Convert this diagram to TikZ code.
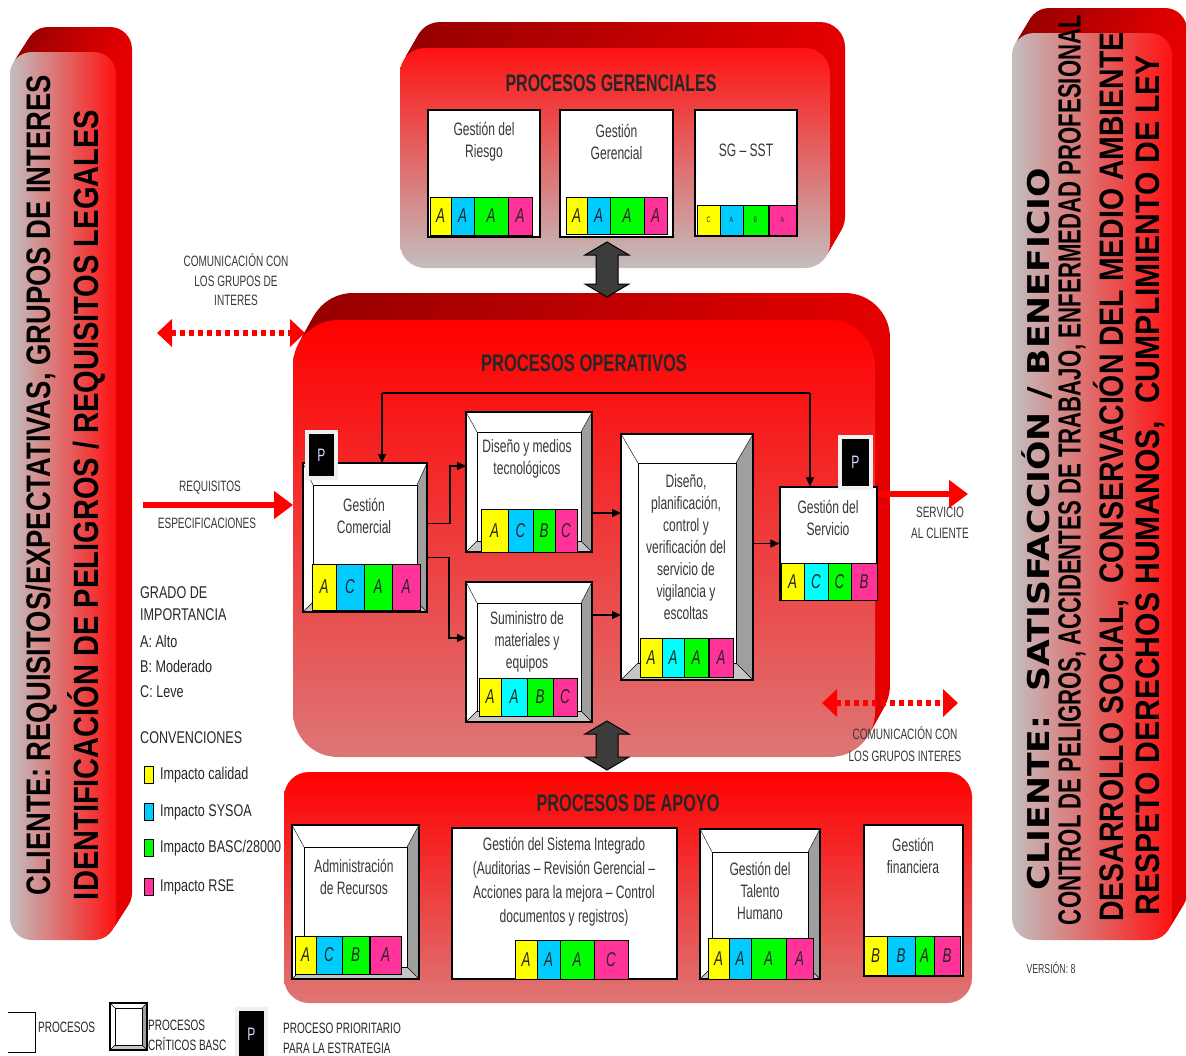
\documentclass[tikz,border=0pt]{standalone}
\usepackage{fontspec}
\usepackage{graphicx}
\setmainfont{Liberation Sans}
\newfontfamily\narrowfont[FakeStretch=0.67]{Liberation Sans}
\newfontfamily\legendfont[FakeStretch=0.74]{Liberation Sans}
\newfontfamily\verdanafont{DejaVu Sans}
\usetikzlibrary{calc,arrows.meta}

\definecolor{yel}{RGB}{255,255,0}
\definecolor{skyb}{RGB}{0,204,255}
\definecolor{aqua}{RGB}{0,255,255}
\definecolor{grn}{RGB}{0,255,0}
\definecolor{mag}{RGB}{255,51,153}
\definecolor{panelred}{RGB}{255,18,18}
\definecolor{panelgray}{RGB}{195,190,190}
\definecolor{rose}{RGB}{222,118,118}
\definecolor{darkred}{RGB}{150,0,0}
\definecolor{sidered}{RGB}{228,0,0}
\definecolor{txtgray}{RGB}{55,55,55}
\definecolor{arrowgray}{RGB}{60,60,60}

\newcommand{\boxfont}{\narrowfont\fontsize{18}{22}\selectfont}
\newcommand{\cellfont}{\narrowfont\itshape\fontsize{20}{20}\selectfont}
\newcommand{\tinyfont}{\narrowfont\fontsize{8}{8}\selectfont}
\newcommand{\smallfont}{\narrowfont\fontsize{15}{20}\selectfont}
\newcommand{\legfont}{\legendfont\fontsize{17}{20}\selectfont}
\newcommand{\fitto}[2]{\resizebox{#1}{\height}{#2}}

% cara trasera de un panel (extrusion)
\newcommand{\panelback}[6]{%
  \foreach \t [count=\i] in {1,0.9,...,0.1}
    \node[backface, rounded corners=#6pt, minimum width=#3pt, minimum height=#4pt] (#1\i) at ($(#2)+\t*(#5)$) {};
}

% proceso critico (caja con bisel)
\newcommand{\critbox}[6]{%
  \node[minimum width=#3pt, minimum height=#4pt, inner sep=0pt, outer sep=0pt] (#1) at (#2) {};
  \coordinate (#1-a) at ($(#1.north west)+(#6,#5)$);
  \coordinate (#1-b) at ($(#1.north east)+(-#6,#5)$);
  \coordinate (#1-c) at ($(#1.south east)+(-#6,-#6)$);
  \coordinate (#1-d) at ($(#1.south west)+(#6,-#6)$);
  \fill[white] (#1.north west) rectangle (#1.south east);
  \fill[gray!75] (#1.north east) -- (#1.south east) -- (#1-c) -- (#1-b) -- cycle;
  \fill[gray!45] (#1.south west) -- (#1.south east) -- (#1-c) -- (#1-d) -- cycle;
  \draw[thin] (#1.north west) -- (#1-a) (#1.north east) -- (#1-b)
    (#1.south east) -- (#1-c) (#1.south west) -- (#1-d);
  \draw[line width=1pt, fill=white] (#1-a) rectangle (#1-c);
  \draw[line width=2.5pt] (#1.north west) rectangle (#1.south east);
}

% fila de impactos
\newcommand{\cells}[5][]{%
  \foreach \xa/\xb/\cellcol/\lab [count=\n] in {#5}
    \node[stripcell, fill=\cellcol, minimum width={(\xb-\xa)*1pt}, minimum height={(#4-#3)*1pt}, #1]
      (#2-\n) at ({(\xa+\xb)/2},{(#3+#4)/2}) {\lab};
}

% flecha doble gruesa
\newcommand{\bigdarrow}[3]{%
  \filldraw[fill=arrowgray, draw=black, line width=1pt]
    (#1,#2) -- ++(22,13) -- ++(-11,0) -- ({#1+11},{#3-13}) -- ++(11,0) -- (#1,#3)
    -- ++(-22,-13) -- ++(11,0) -- ({#1-11},{#2+13}) -- ++(-11,0) -- cycle;
}

\begin{document}
\begin{tikzpicture}[x=1pt, y=-1pt,
  panel/.style={inner sep=0pt, outer sep=0pt},
  backface/.style={panel, left color=darkred, middle color=darkred, right color=sidered},
  plainbox/.style={draw=black, line width=1.2pt, fill=white, inner sep=0pt},
  stripcell/.style={draw=black, line width=1pt, inner sep=0pt, font=\cellfont, text=black!85},
  boxtext/.style={font=\boxfont, text=txtgray, align=center, inner sep=0pt},
  wire/.style={line width=1.1pt},
  conn/.style={wire, -{Triangle[length=9pt,width=8pt]}},
  redarrow/.style={draw=red, line width=6pt, -{Triangle[length=19pt,width=27pt]}},
  dotarrow/.style={draw=red, line width=6pt, dash pattern=on 5pt off 4pt,
    {Triangle[length=15pt,width=27pt]}-{Triangle[length=15pt,width=27pt]}},
  pbadge/.style={fill=black, draw=gray!12, line width=4pt, text=blue!15,
    font=\narrowfont\fontsize{18}{18}\selectfont, inner sep=0pt},
  paneltitle/.style={font=\bfseries\fontsize{24}{24}\selectfont, text=black!85, inner sep=0pt},
  note/.style={font=\smallfont, text=txtgray, align=center, inner sep=0pt},
  legtext/.style={font=\legfont, text=black!85, anchor=west, align=left, inner sep=0pt},
  sidetext/.style={rotate=90, inner sep=0pt, font=\bfseries}]

\useasboundingbox (0,0) rectangle (1186,1055);

% Panel izquierdo
\panelback{lb}{63,496}{106}{888}{16,-25}{22}
\node[panel, rounded corners=22pt, minimum width=106pt, minimum height=888pt,
  left color=panelgray, right color=panelred] (lp) at (63,496) {};
\node[sidetext] (lt1) at (42,485) {\fitto{820pt}{\fontsize{34}{34}\selectfont CLIENTE: REQUISITOS/EXPECTATIVAS, GRUPOS DE INTERES}};
\node[sidetext] (lt2) at (86,505) {\fitto{790pt}{\fontsize{35}{35}\selectfont IDENTIFICACIÓN DE PELIGROS / REQUISITOS LEGALES}};

% Panel derecho
\panelback{rb}{1092,486.5}{160}{907}{15,-25}{22}
\node[panel, rounded corners=22pt, minimum width=160pt, minimum height=907pt,
  left color=panelgray, right color=panelred] (rp) at (1092,486.5) {};
\node[sidetext] (rt1) at (1037,529) {\fitto{722pt}{\verdanafont\fontsize{30}{30}\selectfont CLIENTE:\ \ SATISFACCIÓN / BENEFICIO}};
\node[sidetext] (rt2) at (1072,470) {\fitto{910pt}{\fontsize{32}{32}\selectfont CONTROL DE PELIGROS, ACCIDENTES DE TRABAJO, ENFERMEDAD PROFESIONAL}};
\node[sidetext] (rt3) at (1111,477) {\fitto{889pt}{\fontsize{34}{34}\selectfont DESARROLLO SOCIAL,\ \ CONSERVACIÓN DEL MEDIO AMBIENTE}};
\node[sidetext] (rt4) at (1150,485) {\fitto{860pt}{\fontsize{34}{34}\selectfont RESPETO DERECHOS HUMANOS,\ \ CUMPLIMIENTO DE LEY}};

% Procesos gerenciales
\panelback{gb}{615,158}{430}{220}{15,-26}{25}
\node[panel, rounded corners=25pt, minimum width=430pt, minimum height=220pt,
  top color=panelred, bottom color=panelgray] (ger) at (615,158) {};
\node[paneltitle] (ger-t) at (611,83) {\fitto{211pt}{PROCESOS GERENCIALES}};

% Procesos operativos
\panelback{ob}{584,538.5}{582}{437}{15,-27}{45}
\node[panel, rounded corners=45pt, minimum width=582pt, minimum height=437pt,
  top color=red, bottom color=rose] (ope) at (584,538.5) {};
\node[paneltitle] (ope-t) at (584,363) {\fitto{206pt}{PROCESOS OPERATIVOS}};

% Procesos de apoyo
\node[panel, rounded corners=25pt, minimum width=688pt, minimum height=231pt,
  top color=red, bottom color=rose] (apo) at (628,887.5) {};
\node[paneltitle] (apo-t) at (628,803) {\fitto{183pt}{PROCESOS DE APOYO}};

% Flechas entre niveles
\bigdarrow{607}{242}{297}
\bigdarrow{607}{721}{770}

% Cajas gerenciales
\node[plainbox, minimum width=112pt, minimum height=127pt] (rie) at (484,173.5) {};
\node[plainbox, minimum width=113pt, minimum height=127pt] (gge) at (616.5,173.5) {};
\node[plainbox, minimum width=102pt, minimum height=126pt] (sst) at (746,173) {};
\node[boxtext] (rie-t) at (484,141.5) {Gestión del\\Riesgo};
\node[boxtext] (gge-t) at (616.5,141.5) {Gestión\\Gerencial};
\node[boxtext] (sst-t) at (746,150) {SG – SST};
\cells{rie}{197}{235}{430/451/yel/A, 451/474/skyb/A, 474/508/grn/A, 508/532/mag/A}
\cells{gge}{197}{234}{566/587/yel/A, 587/610/skyb/A, 610/644/grn/A, 644/667/mag/A}
\cells[font=\tinyfont]{sst}{205}{235}{697/720/yel/C, 720/743/skyb/A, 743/768/grn/B, 769/796/mag/A}

% Cajas operativas
\critbox{com}{365,537.5}{124}{149}{22}{10}
\critbox{dis}{529,482}{126}{140}{20}{11}
\critbox{sum}{529,652}{126}{140}{21}{11}
\critbox{cen}{687,557}{132}{246}{29}{17}
\node[plainbox, minimum width=97pt, minimum height=113pt] (serv) at (828.5,543.5) {};
\node[boxtext] (com-t) at (364,516) {Gestión\\Comercial};
\node[boxtext] (dis-t) at (527,459) {Diseño y medios\\tecnológicos};
\node[boxtext] (sum-t) at (527,641.5) {Suministro de\\materiales y\\equipos};
\node[boxtext] (cen-t) at (686,547) {Diseño,\\planificación,\\control y\\verificación del\\servicio de\\vigilancia y\\escoltas};
\node[boxtext] (serv-t) at (828,517.5) {Gestión del\\Servicio};
\cells{com}{564}{610}{312/336/yel/A, 336/364/skyb/C, 364/392/grn/A, 392/420/mag/A}
\cells{dis}{509}{552}{481/508/yel/A, 508/533/skyb/C, 533/555/grn/B, 555/577/mag/C}
\cells{sum}{678}{716}{479/501/yel/A, 501/527/aqua/A, 527/553/grn/B, 553/577/mag/C}
\cells{cen}{638}{677}{640/662/yel/A, 662/684/aqua/A, 684/708/grn/A, 709/733/mag/A}
\cells{serv}{563}{600}{781/804/yel/A, 804/828/aqua/C, 828/851/grn/C, 851/877/mag/B}
\node[pbadge, minimum width=29pt, minimum height=46pt] (p1) at (321.5,455) {P};
\node[pbadge, minimum width=31pt, minimum height=51pt] (p2) at (855.5,462.5) {P};

% Conexiones internas
\coordinate (fbl) at (382,393);
\coordinate (fbr) at (810,393);
\draw[wire] (fbl) -- (fbr);
\draw[conn] (fbl) -- (fbl |- com.north);
\draw[conn] (fbr) -- (fbr |- serv.north);
\draw[conn] ([yshift=14pt]com.east) -- ++(23,0) |- ([yshift=16pt]dis.west);
\draw[conn] ([yshift=-20pt]com.east) -- ++(22,0) |- ([yshift=14pt]sum.west);
\draw[conn] ([yshift=-31pt]dis.east) -- ([yshift=-31pt]dis.east -| cen.west);
\draw[conn] ([yshift=37pt]sum.east) -- ([yshift=37pt]sum.east -| cen.west);
\draw[conn] (cen.east |- serv.west) -- (serv.west);

% Cajas de apoyo
\critbox{adm}{355.5,902}{127}{154}{22}{12}
\node[plainbox, minimum width=225pt, minimum height=151pt] (sis) at (564.5,903.5) {};
\critbox{tal}{760,904}{120}{150}{23}{12}
\node[plainbox, minimum width=99pt, minimum height=151pt] (fin) at (913.5,900.5) {};
\node[boxtext] (adm-t) at (354,876.5) {Administración\\de Recursos};
\node[boxtext, font=\narrowfont\fontsize{18}{24}\selectfont] (sis-t) at (564,882) {Gestión del Sistema Integrado\\(Auditorias – Revisión Gerencial –\\Acciones para la mejora – Control\\documentos y registros)};
\node[boxtext] (tal-t) at (760,891) {Gestión del\\Talento\\Humano};
\node[boxtext] (fin-t) at (913,856) {Gestión\\financiera};
\cells{adm}{936}{974}{295/316/yel/A, 316/342/skyb/C, 342/369/grn/B, 370/401/mag/A}
\cells{sis}{940}{979}{515/537/yel/A, 537/560/skyb/A, 560/594/grn/A, 594/628/mag/C}
\cells{tal}{938}{979}{708/729/yel/A, 729/751/skyb/A, 751/786/grn/A, 786/813/mag/A}
\cells{fin}{936}{975}{864/887/yel/B, 887/915/skyb/B, 915/934/grn/A, 934/960/mag/B}

% Entradas y salidas
\coordinate (req) at (143,505);
\draw[redarrow] (req) -- (req -| ope.west);
\node[note] (req-t1) at (210,488) {REQUISITOS};
\node[note] (req-t2) at (207,523) {ESPECIFICACIONES};
\coordinate (cli) at (968,494);
\draw[redarrow] (serv.east |- cli) -- (cli);
\node[note, font=\narrowfont\fontsize{15}{21}\selectfont] (cli-t) at (940,522.5) {SERVICIO\\AL CLIENTE};

% Comunicacion con grupos de interes
\coordinate (d1l) at (157,333);
\coordinate (d1r) at (305,333);
\draw[dotarrow] (d1l) -- (d1r);
\node[note, font=\narrowfont\fontsize{15}{19.5}\selectfont] (gi1-t) at (236,280) {COMUNICACIÓN CON\\LOS GRUPOS DE\\INTERES};
\coordinate (d2l) at (822,703);
\coordinate (d2r) at (958,703);
\draw[dotarrow] (d2l) -- (d2r);
\node[note, font=\narrowfont\fontsize{15}{22}\selectfont] (gi2-t) at (905,744) {COMUNICACIÓN CON\\LOS GRUPOS INTERES};

% Grado de importancia y convenciones
\node[legtext] (gr1) at (140,593) {GRADO DE};
\node[legtext] (gr2) at (140,615) {IMPORTANCIA};
\node[legtext] (gr3) at (140,641) {A: Alto};
\node[legtext] (gr4) at (140,666) {B: Moderado};
\node[legtext] (gr5) at (140,692) {C: Leve};
\node[legtext] (cv0) at (140,738) {CONVENCIONES};
\foreach \yy/\cellcol/\lbl [count=\i] in {775/yel/Impacto calidad, 812/skyb/Impacto SYSOA,
    848/grn/{Impacto BASC/28000}, 887/mag/Impacto RSE}{
  \node[draw=black, line width=1pt, fill=\cellcol, minimum width=9pt, minimum height=17pt, inner sep=0pt] (sq\i) at (148.5,\yy) {};
  \node[legtext] (sl\i) at (160,\yy) {\lbl};
}

% Leyenda inferior
\draw[line width=1pt] (8,1012) -- (35,1012) -- (35,1052) -- (8,1052);
\node[legtext, font=\smallfont] (lg1) at (38,1027) {PROCESOS};
\critbox{lgc}{128.5,1026.5}{37}{47}{5}{5}
\node[legtext, font=\smallfont] (lg2) at (148,1035) {PROCESOS\\CRÍTICOS BASC};
\node[pbadge, minimum width=29pt, minimum height=50pt] (lgp) at (251.5,1034) {P};
\node[legtext, font=\smallfont] (lg3) at (283,1038.5) {PROCESO PRIORITARIO\\PARA LA ESTRATEGIA};
\node[note, font=\narrowfont\fontsize{13}{13}\selectfont] (ver) at (1051,968) {VERSIÓN: 8};

\end{tikzpicture}
\end{document}
